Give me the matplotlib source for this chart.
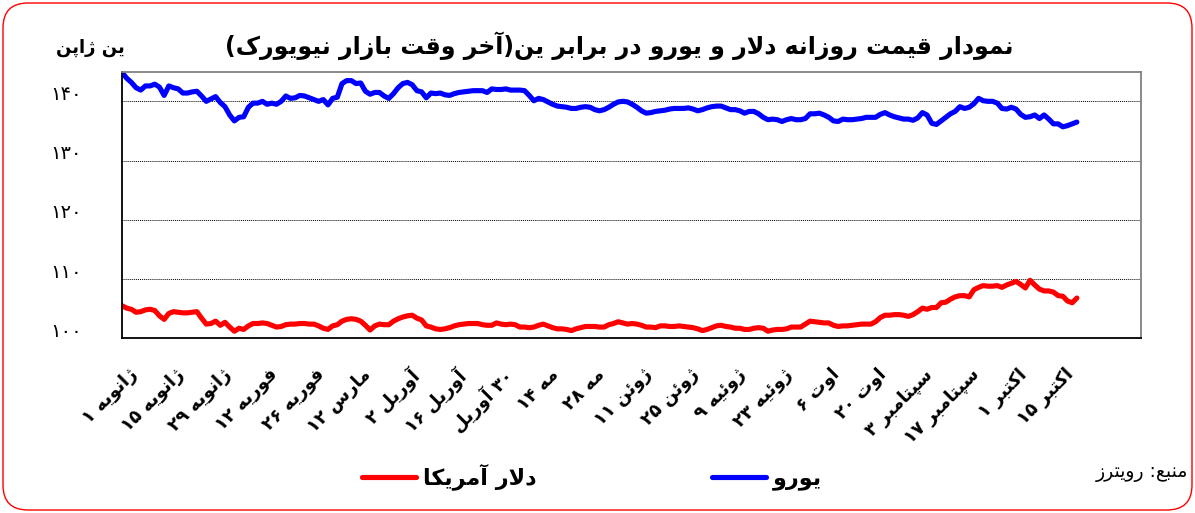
import re
import numpy as np
import matplotlib
matplotlib.use("Agg")
import matplotlib.pyplot as plt
from matplotlib.patches import FancyBboxPatch
from matplotlib.lines import Line2D
import matplotlib.transforms as mtransforms

euro = [144.9, 143.9, 143.2, 142.3, 141.9, 142.6, 142.6, 142.9, 142.4, 141.0,
        142.6, 142.3, 142.1, 141.4, 141.4, 141.6, 141.7, 140.9, 140.0, 140.4,
        140.8, 139.8, 139.1, 137.7, 136.7, 137.3, 137.4, 139.0, 139.7, 139.7,
        140.0, 139.5, 139.7, 139.5, 140.0, 140.9, 140.5, 140.6, 141.0, 140.9,
        140.6, 140.3, 140.0, 140.3, 139.4, 140.5, 140.7, 143.0, 143.5, 143.5,
        143.0, 143.1, 141.7, 141.2, 141.5, 141.5, 140.9, 140.5, 141.3, 142.3,
        143.0, 143.2, 142.8, 141.8, 141.6, 140.6, 141.4, 141.3, 141.4, 141.1,
        141.0, 141.3, 141.5, 141.6, 141.7, 141.8, 141.8, 141.8, 141.5, 142.1,
        142.0, 142.0, 142.1, 141.9, 141.9, 141.9, 141.8, 141.0, 140.1, 140.5,
        140.3, 139.9, 139.5, 139.2, 139.1, 139.0, 138.8, 138.8, 139.0, 139.1,
        139.0, 138.6, 138.4, 138.6, 139.0, 139.5, 139.9, 140.0, 139.9, 139.5,
        139.0, 138.4, 138.0, 138.1, 138.3, 138.4, 138.5, 138.7, 138.8, 138.8,
        138.8, 138.9, 138.7, 138.4, 138.6, 138.9, 139.1, 139.2, 139.2, 138.9,
        138.6, 138.6, 138.4, 138.0, 138.3, 138.3, 137.9, 137.3, 136.9, 137.0,
        136.9, 136.6, 136.9, 137.1, 136.9, 136.9, 137.1, 137.9, 137.9, 138.0,
        137.7, 137.3, 136.7, 136.6, 137.0, 136.9, 136.9, 137.0, 137.1, 137.3,
        137.3, 137.3, 137.8, 138.1, 137.7, 137.4, 137.2, 137.0, 137.0, 136.8,
        137.2, 138.1, 137.7, 136.3, 136.1, 136.7, 137.3, 137.9, 138.3, 139.1,
        138.8, 139.0, 139.6, 140.5, 140.1, 140.0, 140.0, 139.7, 138.8, 138.7,
        139.0, 138.7, 137.8, 137.3, 137.4, 137.7, 137.1, 137.7, 137.0, 136.2,
        136.2, 135.7, 135.9, 136.2, 136.5]

dollar = [105.5, 105.1, 104.9, 104.4, 104.5, 104.8, 104.9, 104.7, 103.8, 103.2,
          104.2, 104.5, 104.4, 104.3, 104.3, 104.4, 104.5, 103.4, 102.4, 102.5,
          102.9, 102.2, 102.7, 101.9, 101.2, 101.7, 101.5, 102.1, 102.5, 102.5,
          102.6, 102.5, 102.2, 101.9, 102.0, 102.3, 102.4, 102.4, 102.5, 102.5,
          102.4, 102.4, 102.1, 101.7, 101.5, 102.1, 102.3, 102.9, 103.2, 103.3,
          103.2, 102.9, 102.2, 101.4, 102.1, 102.4, 102.3, 102.3, 102.9, 103.3,
          103.6, 103.8, 103.9, 103.4, 103.1, 102.1, 101.9, 101.6, 101.5, 101.6,
          101.8, 102.1, 102.3, 102.4, 102.5, 102.5, 102.5, 102.3, 102.2, 102.2,
          102.6, 102.4, 102.3, 102.4, 102.3, 101.9, 101.9, 101.8, 101.9, 102.2,
          102.4, 102.1, 101.8, 101.6, 101.6, 101.5, 101.3, 101.6, 101.8, 102.0,
          102.0, 102.0, 101.9, 101.9, 102.3, 102.5, 102.8, 102.6, 102.4, 102.5,
          102.4, 102.2, 101.9, 101.9, 101.8, 102.1, 102.1, 102.0, 102.0, 102.1,
          102.0, 101.9, 101.8, 101.6, 101.3, 101.5, 101.8, 102.1, 102.2, 102.0,
          101.9, 101.7, 101.7, 101.5, 101.5, 101.7, 101.8, 101.7, 101.2, 101.4,
          101.5, 101.5, 101.6, 101.9, 101.9, 101.9, 102.4, 102.9, 102.8, 102.7,
          102.6, 102.6, 102.2, 102.0, 102.1, 102.1, 102.2, 102.3, 102.4, 102.4,
          102.4, 102.8, 103.5, 103.9, 103.9, 104.0, 104.0, 103.9, 103.7, 104.0,
          104.5, 105.1, 104.9, 105.2, 105.2, 106.0, 106.1, 106.6, 107.0, 107.2,
          107.2, 107.0, 108.2, 108.6, 108.9, 108.8, 108.8, 108.9, 108.6, 109.0,
          109.3, 109.6, 109.1, 108.5, 109.8, 109.0, 108.3, 108.0, 108.0, 107.8,
          107.2, 107.1, 106.3, 106.0, 106.8]

date_labels = ['ژانویه ۱', 'ژانویه ۱۵', 'ژانویه ۲۹', 'فوریه ۱۲', 'فوریه ۲۶',
               'مارس ۱۲', 'آوریل ۲', 'آوریل ۱۶', '۳۰ آوریل', 'مه ۱۴', 'مه ۲۸',
               'ژوئن ۱۱', 'ژوئن ۲۵', 'ژوئیه ۹', 'ژوئیه ۲۳', 'اوت ۶', 'اوت ۲۰',
               'سپتامبر ۳', 'سپتامبر ۱۷', 'اکتبر ۱', 'اکتبر ۱۵']
y_ticks = [100, 110, 120, 130, 140]
y_tick_labels = ['۱۰۰', '۱۱۰', '۱۲۰', '۱۳۰', '۱۴۰']

title_text = 'نمودار قیمت روزانه دلار و یورو در برابر ین(آخر وقت بازار نیویورک)'
unit_text = 'ین ژاپن'
dollar_name = 'دلار آمریکا'
euro_name = 'یورو'
source_text = 'منبع: رویترز'

# isolated, final, initial, medial
FORMS = {
    'ا': ('\uFE8D', '\uFE8E', None, None),
    'آ': ('\uFE81', '\uFE82', None, None),
    'ب': ('\uFE8F', '\uFE90', '\uFE91', '\uFE92'),
    'پ': ('\uFB56', '\uFB57', '\uFB58', '\uFB59'),
    'ت': ('\uFE95', '\uFE96', '\uFE97', '\uFE98'),
    'خ': ('\uFEA5', '\uFEA6', '\uFEA7', '\uFEA8'),
    'د': ('\uFEA9', '\uFEAA', None, None),
    'ر': ('\uFEAD', '\uFEAE', None, None),
    'ز': ('\uFEAF', '\uFEB0', None, None),
    'ژ': ('\uFB8A', '\uFB8B', None, None),
    'س': ('\uFEB1', '\uFEB2', '\uFEB3', '\uFEB4'),
    'ع': ('\uFEC9', '\uFECA', '\uFECB', '\uFECC'),
    'ف': ('\uFED1', '\uFED2', '\uFED3', '\uFED4'),
    'ق': ('\uFED5', '\uFED6', '\uFED7', '\uFED8'),
    'ک': ('\uFB8E', '\uFB8F', '\uFB90', '\uFB91'),
    'ل': ('\uFEDD', '\uFEDE', '\uFEDF', '\uFEE0'),
    'م': ('\uFEE1', '\uFEE2', '\uFEE3', '\uFEE4'),
    'ن': ('\uFEE5', '\uFEE6', '\uFEE7', '\uFEE8'),
    'ه': ('\uFEE9', '\uFEEA', '\uFEEB', '\uFEEC'),
    'و': ('\uFEED', '\uFEEE', None, None),
    'ی': ('\uFBFC', '\uFBFD', '\uFBFE', '\uFBFF'),
    'ئ': ('\uFE89', '\uFE8A', '\uFE8B', '\uFE8C'),
}
LAM_ALEF = {'ا': ('\uFEFB', '\uFEFC'), 'آ': ('\uFEF5', '\uFEF6')}


def joins_left(c):
    return c in FORMS and FORMS[c][2] is not None


def shape(text):
    out = []
    k = 0
    while k < len(text):
        c = text[k]
        if c not in FORMS:
            out.append(c)
            k += 1
            continue
        prev = text[k - 1] if k > 0 else ''
        nxt = text[k + 1] if k + 1 < len(text) else ''
        p = joins_left(prev)
        if c == 'ل' and nxt in LAM_ALEF:
            out.append(LAM_ALEF[nxt][1 if p else 0])
            k += 2
            continue
        n = joins_left(c) and nxt in FORMS
        if p and n:
            out.append(FORMS[c][3])
        elif p:
            out.append(FORMS[c][1])
        elif n:
            out.append(FORMS[c][2])
        else:
            out.append(FORMS[c][0])
        k += 1
    s = ''.join(out)
    # visual order: reverse, but keep digit runs left to right
    runs = re.findall(r'[0-9\u06F0-\u06F9]+|.', s)
    runs.reverse()
    s = ''.join(runs)
    s = s.replace('(', '\x00').replace(')', '(').replace('\x00', ')')
    return s


plt.rcParams['font.family'] = ['DejaVu Sans']

fig = plt.figure(figsize=(11.95, 5.13), dpi=100)
ax = fig.add_axes([0.1021, 0.3405, 0.8527, 0.5197])

x = np.arange(len(euro))
ax.plot(x, dollar, color='#ff0000', lw=3.7, solid_capstyle='round', solid_joinstyle='round')
ax.plot(x, euro, color='#0000ff', lw=3.7, solid_capstyle='round', solid_joinstyle='round')

ax.set_xlim(0, 217.7)
ax.set_ylim(100, 145)
ax.set_yticks(y_ticks)
ax.set_yticklabels(y_tick_labels, fontsize=14)
ax.yaxis.grid(True, linestyle=(0, (1, 1)), color='black', lw=0.7)
ax.set_axisbelow(True)

ax.set_xticks(np.arange(0, 10 * len(date_labels), 10))
ax.set_xticklabels([shape(t) for t in date_labels], rotation=45, ha='right', va='top',
                   rotation_mode='anchor', fontsize=13, fontweight='bold')
ax.tick_params(length=0, pad=0)

off = mtransforms.ScaledTranslation(0.06, -0.27, fig.dpi_scale_trans)
for lab in ax.get_xticklabels():
    lab.set_transform(lab.get_transform() + off)
off_y = mtransforms.ScaledTranslation(-0.40, 0.09, fig.dpi_scale_trans)
for lab in ax.get_yticklabels():
    lab.set_transform(lab.get_transform() + off_y)

for s in ['left', 'bottom']:
    ax.spines[s].set_color('black')
    ax.spines[s].set_linewidth(1.3)
for s in ['top', 'right']:
    ax.spines[s].set_color('#808080')
    ax.spines[s].set_linewidth(1.3)

fig.text(619 / 1195, 1 - 46 / 513, shape(title_text), ha='center', va='center',
         fontsize=17, fontweight='bold')
fig.text(90 / 1195, 1 - 48 / 513, shape(unit_text), ha='center', va='center',
         fontsize=13, fontweight='bold')
fig.text(1188 / 1195, 1 - 473 / 513, shape(source_text), ha='right', va='center',
         fontsize=13.5)

handles = [Line2D([], [], color='#ff0000', lw=3.7, solid_capstyle='round'),
           Line2D([], [], color='#0000ff', lw=3.7, solid_capstyle='round')]
fig.legend(handles, [shape(dollar_name), shape(euro_name)], loc='center',
           bbox_to_anchor=(592 / 1195, 1 - 477 / 513), ncol=2, frameon=False,
           handlelength=2.45, handletextpad=0.3, columnspacing=7.9,
           prop={'size': 16, 'weight': 'bold'})

border = FancyBboxPatch((0.03, 0.03), 11.89, 5.07, boxstyle='round,pad=0,rounding_size=0.25',
                        transform=fig.dpi_scale_trans, fill=False, edgecolor='#ff0000', lw=1.0)
fig.add_artist(border)

fig.savefig('out.png', dpi=100)
